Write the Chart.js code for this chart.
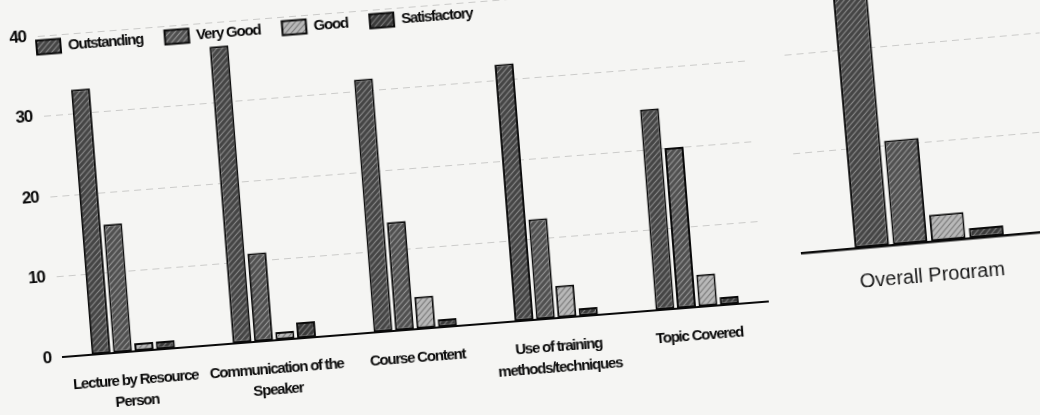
<!DOCTYPE html>
<html>
<head>
<meta charset="utf-8">
<title>Feedback chart</title>
<script src="https://cdn.jsdelivr.net/npm/chart.js@4.4.1/dist/chart.umd.min.js"></script>
<style>
  html, body { margin: 0; padding: 0; width: 1040px; height: 415px; overflow: hidden; background: #f5f5f3; }
  /* the printed page was photographed a little tilted, so both panels lean */
  #mainChart { position: absolute; left: 13px; top: 7px; transform-origin: 50px 350px; transform: rotate(-4.5deg); }
  #overallChart { position: absolute; left: 791px; top: -155px; transform-origin: 10px 398px; transform: rotate(-5deg); }
</style>
</head>
<body>
<canvas id="mainChart" width="790" height="410"></canvas>
<canvas id="overallChart" width="280" height="448"></canvas>
<script>
// categories and series
const categories = [
  ['Lecture by Resource', 'Person'],
  ['Communication of the', 'Speaker'],
  'Course Content',
  ['Use of training', 'methods/techniques'],
  'Topic Covered'
];
const seriesNames = ['Outstanding', 'Very Good', 'Good', 'Satisfactory'];
const outstanding = [33, 37, 31.5, 32, 25];
const veryGood = [16, 11, 13.5, 12.5, 20];
const good = [1, 1, 4, 4, 4];
const satisfactory = [1, 2, 1, 1, 1];
const yTicks = [0, 10, 20, 30, 40];

// second panel, cut off at the top of the photo
const overallLabel = ['Overall Program'];
const overallValues = [36, 10.5, 2.7, 1];

const sans = "'Liberation Sans', Arial, sans-serif";
const ink = '#0a0a0a';

// grey hatch like the printed fills
function hatch(bg, fg) {
  const c = document.createElement('canvas');
  c.width = 6; c.height = 6;
  const g = c.getContext('2d');
  g.fillStyle = bg;
  g.fillRect(0, 0, 6, 6);
  g.strokeStyle = fg;
  g.lineWidth = 1.2;
  g.beginPath();
  g.moveTo(0, 6); g.lineTo(6, 0);
  g.moveTo(-1, 1); g.lineTo(1, -1);
  g.moveTo(5, 7); g.lineTo(7, 5);
  g.stroke();
  return g.createPattern(c, 'repeat');
}

const fills = [
  hatch('#454545', '#8a8a8a'),
  hatch('#505050', '#969696'),
  hatch('#b9b9b9', '#7a7a7a'),
  hatch('#3a3a3a', '#7c7c7c')
];

function makeSets(values) {
  return seriesNames.map((name, i) => ({
    label: name,
    data: values[i],
    backgroundColor: fills[i],
    borderColor: ink,
    borderWidth: 2,
    borderSkipped: false
  }));
}

// the print used a condensed face; tighten the letters instead.
// the legend also sits low, just over the top of the plot
const tightText = {
  id: 'tightText',
  beforeInit(chart) {
    const fit = chart.legend.fit;
    chart.legend.fit = function () {
      fit.call(this);
      this.height = 28;
    };
  },
  afterLayout(chart) {
    const lg = chart.legend;
    lg.left += 26; lg.right += 26;
    lg.top += 10; lg.bottom += 40;
  },
  beforeLayout(chart) { chart.ctx.letterSpacing = '-1.2px'; },
  beforeDraw(chart) { chart.ctx.letterSpacing = '-1.2px'; }
};

const mainChart = new Chart(document.getElementById('mainChart'), {
  type: 'bar',
  data: {
    labels: categories,
    datasets: makeSets([outstanding, veryGood, good, satisfactory])
  },
  plugins: [tightText],
  options: {
    responsive: false,
    animation: false,
    layout: { padding: { left: 0, right: 33, top: 0, bottom: 0 } },
    datasets: { bar: { categoryPercentage: 0.61, barPercentage: 0.88 } },
    plugins: {
      tooltip: { enabled: false },
      legend: {
        position: 'top',
        align: 'start',
        labels: {
          color: ink,
          font: { family: sans, size: 15, weight: 'bold' },
          boxWidth: 24,
          boxHeight: 14,
          padding: 22
        }
      }
    },
    scales: {
      x: {
        grid: { display: false },
        border: { color: ink, width: 2 },
        ticks: {
          color: ink,
          font: { family: sans, size: 15, weight: 'bold', lineHeight: 1.35 },
          padding: 11,
          maxRotation: 0,
          autoSkip: false
        },
        afterFit: (s) => { s.height = 60; }
      },
      y: {
        min: 0,
        max: 40,
        afterBuildTicks: (s) => { s.ticks = yTicks.map(v => ({ value: v })); },
        grid: { color: 'rgba(0,0,0,0.17)', drawTicks: false, lineWidth: 1 },
        border: { display: false, dash: [7, 5] },
        ticks: {
          color: ink,
          font: { family: sans, size: 17, weight: 'bold' },
          padding: 12
        },
        afterFit: (s) => { s.width = 50; }
      }
    }
  }
});

const overallChart = new Chart(document.getElementById('overallChart'), {
  type: 'bar',
  data: {
    labels: overallLabel,
    datasets: makeSets(overallValues.map(v => [v]))
  },
  options: {
    responsive: false,
    animation: false,
    layout: { padding: { left: 10, right: 14, top: 10, bottom: 0 } },
    datasets: { bar: { categoryPercentage: 0.6, barPercentage: 0.9 } },
    plugins: { legend: { display: false }, tooltip: { enabled: false } },
    scales: {
      x: {
        grid: { display: false },
        border: { color: ink, width: 2.5 },
        ticks: {
          color: '#1a1a1a',
          font: { family: sans, size: 20 },
          padding: 14
        },
        afterFit: (s) => { s.height = 40; }
      },
      y: {
        min: 0,
        max: 40,
        ticks: { display: false, stepSize: 10 },
        grid: { color: 'rgba(0,0,0,0.17)', drawTicks: false },
        border: { display: false, dash: [7, 5] },
        afterFit: (s) => { s.width = 0; }
      }
    }
  }
});
</script>
</body>
</html>
